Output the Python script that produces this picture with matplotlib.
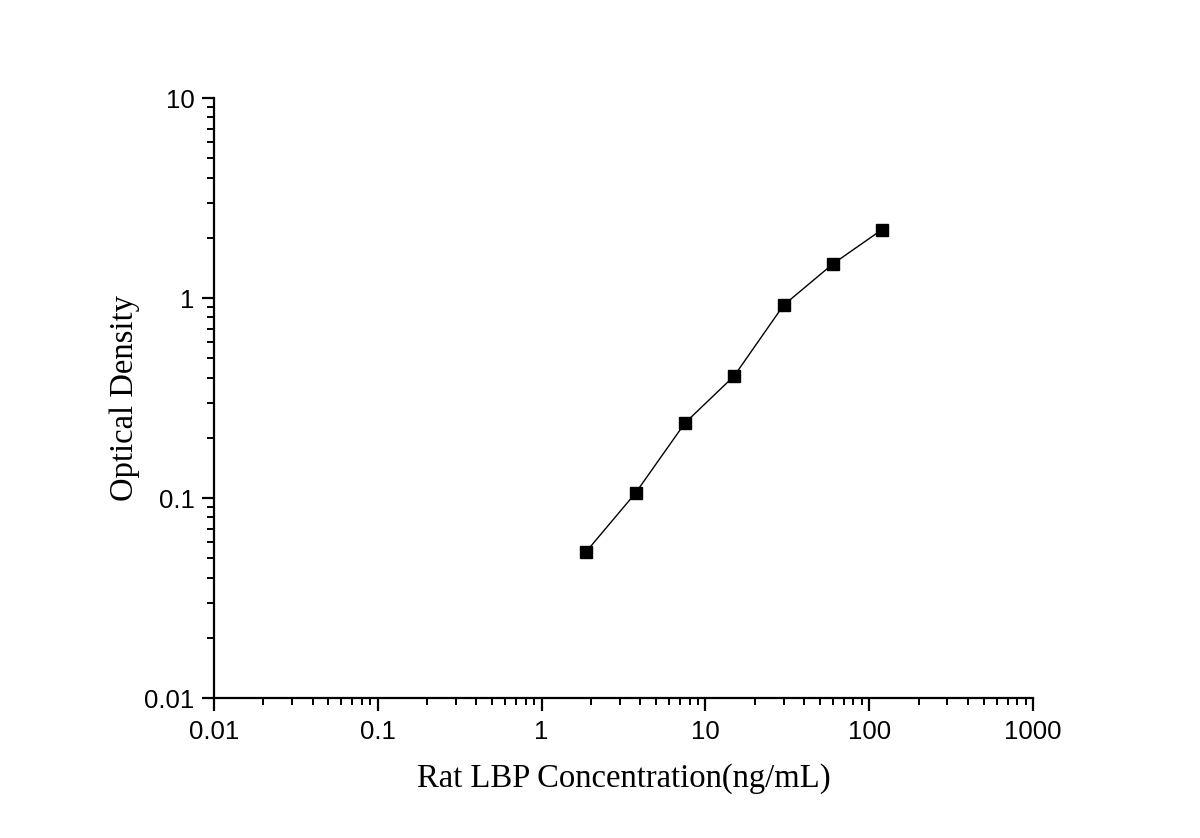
import matplotlib
matplotlib.use("Agg")
import matplotlib.pyplot as plt
from matplotlib.ticker import LogLocator, FixedLocator, FixedFormatter, NullFormatter

conc = [1.875, 3.75, 7.5, 15, 30, 60, 120]
od = [0.054, 0.106, 0.237, 0.408, 0.92, 1.48, 2.2]

xticks = [0.01, 0.1, 1, 10, 100, 1000]
xticklabels = ["0.01", "0.1", "1", "10", "100", "1000"]
yticks = [0.01, 0.1, 1, 10]
yticklabels = ["0.01", "0.1", "1", "10"]

fig = plt.figure(figsize=(12, 8.38), dpi=100)
ax = fig.add_axes([214/1200, 1-698/838, (1033-214)/1200, (698-98)/838])

ax.plot(conc, od, color="black", lw=1.0, marker="s", markersize=8.5,
        markerfacecolor="black", markeredgecolor="black")

ax.set_xscale("log")
ax.set_yscale("log")
ax.set_xlim(0.01, 1000)
ax.set_ylim(0.01, 10)

ax.xaxis.set_major_locator(FixedLocator(xticks))
ax.xaxis.set_major_formatter(FixedFormatter(xticklabels))
ax.yaxis.set_major_locator(FixedLocator(yticks))
ax.yaxis.set_major_formatter(FixedFormatter(yticklabels))
ax.xaxis.set_minor_locator(LogLocator(base=10, subs=range(2, 10), numticks=20))
ax.yaxis.set_minor_locator(LogLocator(base=10, subs=range(2, 10), numticks=20))
ax.xaxis.set_minor_formatter(NullFormatter())
ax.yaxis.set_minor_formatter(NullFormatter())

for s in ["top", "right"]:
    ax.spines[s].set_visible(False)
for s in ["left", "bottom"]:
    ax.spines[s].set_linewidth(1.6)

ax.tick_params(which="major", direction="out", length=9, width=1.6,
               labelsize=18.5, pad=5)
ax.tick_params(axis="x", which="major", pad=7)
ax.tick_params(which="minor", direction="out", length=5, width=1.4)
for lab in ax.get_xticklabels() + ax.get_yticklabels():
    lab.set_fontfamily("Liberation Sans")

ax.set_xlabel("Rat LBP Concentration(ng/mL)", fontfamily="Liberation Serif",
              fontsize=23.5, labelpad=14)
ax.set_ylabel("Optical Density", fontfamily="Liberation Serif",
              fontsize=23.5, labelpad=3)

fig.savefig("out.png", dpi=100, facecolor="white")
